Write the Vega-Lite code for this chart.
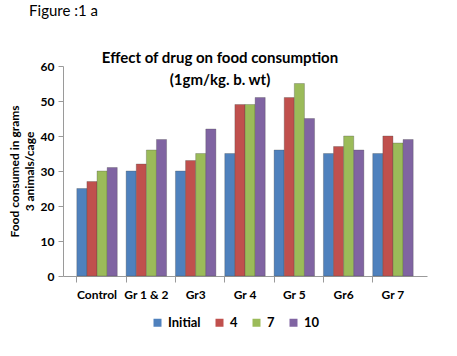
{
  "$schema": "https://vega.github.io/schema/vega-lite/v6.json",
  "padding": {"left": 8, "top": 4, "right": 20, "bottom": 10},
  "background": "white",
  "title": {"text": "Figure :1 a", "anchor": "start", "font": "Lato", "fontSize": 15, "fontWeight": "normal", "color": "#000000", "dx": 21, "dy": 9, "offset": 41, "frame": "bounds"},
  "config": {"view": {"stroke": null}, "font": "Lato"},
  "data": {"values": [
    {"group": "Control", "series": "Initial", "value": 25},
    {"group": "Control", "series": "4", "value": 27},
    {"group": "Control", "series": "7", "value": 30},
    {"group": "Control", "series": "10", "value": 31},
    {"group": "Gr 1 & 2", "series": "Initial", "value": 30},
    {"group": "Gr 1 & 2", "series": "4", "value": 32},
    {"group": "Gr 1 & 2", "series": "7", "value": 36},
    {"group": "Gr 1 & 2", "series": "10", "value": 39},
    {"group": "Gr3", "series": "Initial", "value": 30},
    {"group": "Gr3", "series": "4", "value": 33},
    {"group": "Gr3", "series": "7", "value": 35},
    {"group": "Gr3", "series": "10", "value": 42},
    {"group": "Gr 4", "series": "Initial", "value": 35},
    {"group": "Gr 4", "series": "4", "value": 49},
    {"group": "Gr 4", "series": "7", "value": 49},
    {"group": "Gr 4", "series": "10", "value": 51},
    {"group": "Gr 5", "series": "Initial", "value": 36},
    {"group": "Gr 5", "series": "4", "value": 51},
    {"group": "Gr 5", "series": "7", "value": 55},
    {"group": "Gr 5", "series": "10", "value": 45},
    {"group": "Gr6", "series": "Initial", "value": 35},
    {"group": "Gr6", "series": "4", "value": 37},
    {"group": "Gr6", "series": "7", "value": 40},
    {"group": "Gr6", "series": "10", "value": 36},
    {"group": "Gr 7", "series": "Initial", "value": 35},
    {"group": "Gr 7", "series": "4", "value": 40},
    {"group": "Gr 7", "series": "7", "value": 38},
    {"group": "Gr 7", "series": "10", "value": 39}
  ]},
  "vconcat": [
    {
      "width": 364,
      "height": 210,
      "title": {"text": ["Effect of drug on food consumption", "(1gm/kg. b. wt)"], "anchor": "middle", "font": "Lato", "fontSize": 15, "fontWeight": "bold", "color": "#000000", "lineHeight": 22, "offset": -28, "dx": -25},
      "mark": {"type": "bar", "stroke": "#444444", "strokeWidth": 0.3},
      "encoding": {
        "x": {"field": "group", "type": "nominal", "sort": null,
              "scale": {"paddingInner": 0.18, "paddingOuter": 0.28},
              "axis": {"title": null, "labelAngle": 0, "labelFont": "Lato", "labelFontWeight": "bold", "labelFontSize": 12, "labelColor": "#000000", "labelPadding": 7, "domainColor": "#9a9a9a", "tickColor": "#9a9a9a", "bandPosition": 0, "tickSize": 6}},
        "xOffset": {"field": "series", "type": "nominal", "sort": ["Initial", "4", "7", "10"]},
        "y": {"field": "value", "type": "quantitative",
              "scale": {"domain": [0, 60]},
              "axis": {"title": ["Food consumed in grams", "3 animals/cage"], "titleFont": "Lato", "titleFontWeight": "bold", "titleFontSize": 12, "titleLineHeight": 15, "titleColor": "#000000", "titlePadding": 4, "values": [0, 10, 20, 30, 40, 50, 60], "grid": false, "labelFont": "Lato", "labelFontWeight": "bold", "labelFontSize": 12, "labelColor": "#000000", "domainColor": "#9a9a9a", "tickColor": "#9a9a9a", "labelPadding": 4}},
        "color": {"field": "series", "type": "nominal", "sort": ["Initial", "4", "7", "10"],
                  "scale": {"domain": ["Initial", "4", "7", "10"], "range": ["#4F81BD", "#C0504D", "#9BBB59", "#8064A2"]},
                  "legend": {"title": null, "orient": "none", "legendX": 88, "legendY": 250, "direction": "horizontal", "symbolType": "square", "symbolSize": 64, "symbolStrokeWidth": 0, "labelFont": "Lato", "labelFontWeight": "bold", "labelFontSize": 13, "labelColor": "#000000", "columnPadding": 12}}
      }
    }
  ]
}
